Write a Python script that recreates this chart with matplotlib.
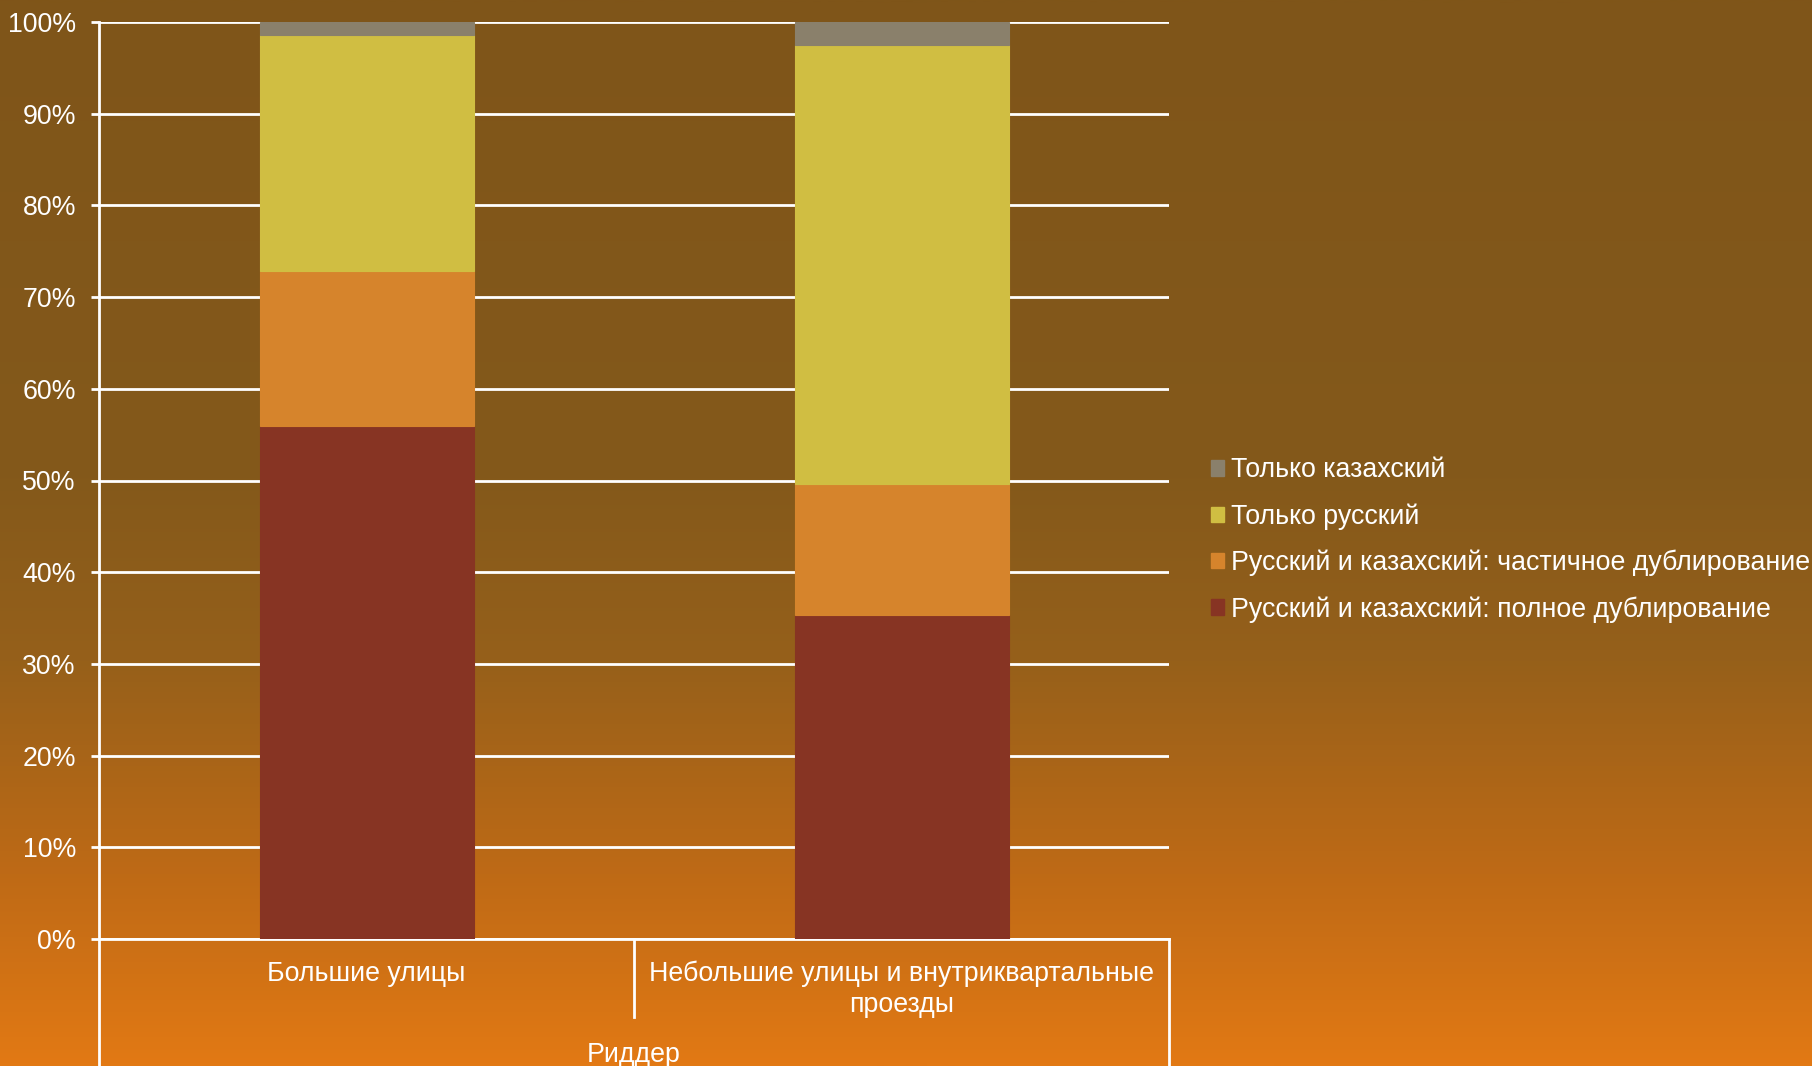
import numpy as np
import matplotlib
matplotlib.use("Agg")
import matplotlib.pyplot as plt
from matplotlib.patches import Patch
from matplotlib.lines import Line2D
from matplotlib.colors import LinearSegmentedColormap
from matplotlib.ticker import PercentFormatter

plt.rcParams['font.family'] = ['Liberation Sans', 'DejaVu Sans']

# ---- data ----
categories = ["Большие улицы", "Небольшие улицы и внутриквартальные\nпроезды"]
group_label = "Риддер"
series_names = [
    "Русский и казахский: полное дублирование",
    "Русский и казахский: частичное дублирование",
    "Только русский",
    "Только казахский",
]
full_dup = [55.9, 35.3]
partial_dup = [17.0, 14.3]
only_ru = [25.7, 47.9]
only_kz = [1.4, 2.5]
yticks = [0, 10, 20, 30, 40, 50, 60, 70, 80, 90, 100]

series_values = [full_dup, partial_dup, only_ru, only_kz]
colors = ["#873423", "#D6842C", "#D0BE42", "#8A806B"]

FS = 19.3
W, H = 1812, 1066
fig = plt.figure(figsize=(W / 100, H / 100), dpi=100)

# background gradient
bg = fig.add_axes([0, 0, 1, 1], zorder=-10)
bg.axis("off")
cmap = LinearSegmentedColormap.from_list(
    "bg",
    [(0.0, (127/255, 85/255, 25/255)),
     (0.45, (132/255, 89/255, 27/255)),
     (0.62, (150/255, 96/255, 26/255)),
     (0.82, (190/255, 106/255, 22/255)),
     (1.0, (226/255, 121/255, 20/255))])
grad = np.linspace(0, 1, 512).reshape(-1, 1)
bg.imshow(grad, aspect="auto", cmap=cmap, extent=[0, 1, 0, 1], origin="upper")
bg.set_xlim(0, 1); bg.set_ylim(0, 1)

left, right, top, bottom = 99, 1169, 22, 939
ax = fig.add_axes([left / W, 1 - bottom / H, (right - left) / W, (bottom - top) / H])
ax.set_facecolor("none")

x = np.arange(len(categories))
base = np.zeros(len(categories))
for vals, col, name in zip(series_values, colors, series_names):
    ax.bar(x, vals, width=0.4, bottom=base, color=col, edgecolor=col,
           linewidth=0.8, zorder=3, label=name)
    base = base + np.array(vals)

ax.set_xlim(-0.5, len(categories) - 0.5)
ax.set_ylim(0, 100)
ax.set_yticks(yticks)
ax.yaxis.set_major_formatter(PercentFormatter(decimals=0))
ax.yaxis.grid(True, color="white", linewidth=2, zorder=1)
ax.set_axisbelow(True)
for s in ["top", "right"]:
    ax.spines[s].set_visible(False)
for s in ["left", "bottom"]:
    ax.spines[s].set_color("white")
    ax.spines[s].set_linewidth(2)
ax.tick_params(axis="y", colors="white", length=5.8, width=2, labelsize=FS, pad=10.8)
ax.tick_params(axis="x", bottom=False, labelbottom=False)

# multi-level category axis
def fy(py):
    return 1 - py / H
def fx(px):
    return px / W

mid = (left + right) / 2
fig.add_artist(Line2D([fx(left), fx(left)], [fy(939), fy(1066)], color="white", lw=2))
fig.add_artist(Line2D([fx(right), fx(right)], [fy(939), fy(1066)], color="white", lw=2))
fig.add_artist(Line2D([fx(mid), fx(mid)], [fy(939), fy(1017)], color="white", lw=2))

cat_centers = [(left + mid) / 2, (mid + right) / 2]
for cx, lab in zip(cat_centers, categories):
    for i, line in enumerate(lab.split("\n")):
        fig.text(fx(cx), fy(974 + 31 * i), line, color="white", fontsize=FS,
                 ha="center", va="center")
fig.text(fx(mid), fy(1055), group_label, color="white", fontsize=FS,
         ha="center", va="center")

# legend
handles = [Patch(facecolor=c, edgecolor=c) for c in colors][::-1]
labels = series_names[::-1]
fig.legend(handles, labels, loc="center left",
           bbox_to_anchor=(fx(1211), fy(540)), frameon=False,
           fontsize=FS, labelcolor="white", handlelength=0.5,
           handleheight=0.5, handletextpad=0.25, labelspacing=0.74,
           borderpad=0, borderaxespad=0)

fig.savefig("out.png", dpi=100)
